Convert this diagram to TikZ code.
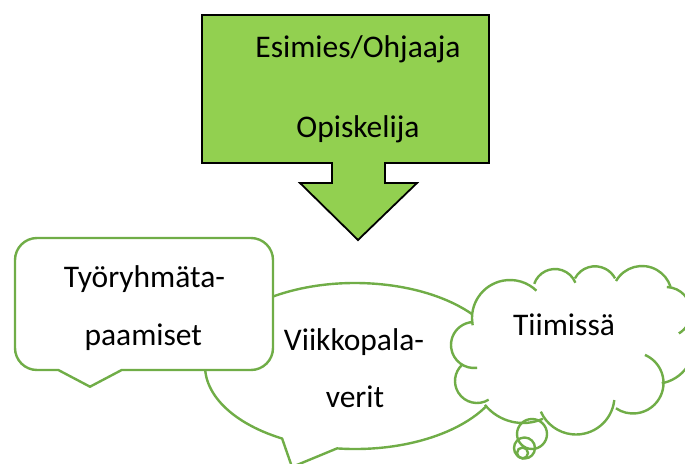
\documentclass[tikz,border=0pt]{standalone}
\usepackage{fontspec}
\setmainfont{Carlito}
\usetikzlibrary{calc}
\definecolor{arrowgreen}{HTML}{92D050}
\definecolor{calloutgreen}{HTML}{70AD47}
\begin{document}
\begin{tikzpicture}[x=1pt,y=-1pt,
  lbl/.style={anchor=base, font=\fontsize{31.5}{36}\selectfont, inner sep=0pt},
  callout/.style={draw=calloutgreen, line width=2.4pt, fill=white, line join=round},
  cloudline/.style={draw=calloutgreen, line width=2.4pt},
  bubble/.style={draw=calloutgreen, line width=2.4pt}]
\useasboundingbox (0,0) rectangle (685,463);
\clip (0,0) rectangle (685,463);

% green down-arrow callout
\draw[fill=arrowgreen, draw=black, line width=1.8pt, line join=miter]
  (202,15) -- (489,15) -- (489,163) -- (385,163) -- (385,183) -- (417,183)
  -- (358,240) -- (300,183) -- (332,183) -- (332,163) -- (202,163) -- cycle;

% ellipse speech callout
\draw[callout] (282.1,438.5) -- (292,467) -- (337,448.4)
  arc[start angle=96.9, end angle=-240.9, x radius=150, y radius=83] -- cycle;

% rounded rectangle speech callout
\draw[callout] (37,238) -- (251,238) arc[start angle=-90,end angle=0,radius=22]
  -- (273,348) arc[start angle=0,end angle=90,radius=22]
  -- (121.7,370) -- (90,386.7) -- (58.3,370)
  -- (37,370) arc[start angle=90,end angle=180,radius=22]
  -- (15,260) arc[start angle=180,end angle=270,radius=22] -- cycle;

% cloud callout: white fill
\fill[white]
  ($(474,345)+(82:23)$) arc[start angle=82,end angle=268,radius=23]
  -- ($(510,318)+(169:38)$) arc[start angle=169,end angle=314,radius=38]
  -- ($(555,291)+(199:22)$) arc[start angle=199,end angle=338,radius=22]
  -- ($(595,289)+(208:22.7)$) arc[start angle=208,end angle=332,radius=22.7]
  -- ($(642,296)+(210:30)$) arc[start angle=210,end angle=342,radius=30]
  -- ($(666,312)+(272:25)$) arc[start angle=272,end angle=419,radius=25]
  -- ($(655,345)+(-25:38.8)$) arc[start angle=-25,end angle=80,radius=38.8]
  -- ($(633,383)+(0:30.5)$) arc[start angle=0,end angle=124,radius=30.5]
  -- ($(576,396)+(6:38.5)$) arc[start angle=6,end angle=156,radius=38.5]
  -- ($(523,374)+(66:49)$) arc[start angle=66,end angle=141,radius=49]
  -- ($(477,381)+(58:22)$) arc[start angle=58,end angle=227,radius=22]
  -- cycle;

% cloud callout: outline arcs
\foreach \cx/\cy/\sa/\ea/\r in {
  474/345/82/268/23, 510/318/169/314/38, 555/291/199/338/22,
  595/289/208/332/22.7, 642/296/210/342/30, 666/312/272/419/25,
  655/345/-25/80/38.8, 633/383/-67/124/30.5, 576/396/6/156/38.5,
  523/374/66/141/49, 477/381/58/227/22}
  \draw[cloudline] ($(\cx,\cy)+(\sa:\r)$) arc[start angle=\sa,end angle=\ea,radius=\r];

% thought bubbles
\draw[bubble] (532,434) circle[radius=15];
\draw[bubble] (524.5,448) circle[radius=10.5];
\draw[bubble] (522.5,453) circle[radius=5.5];

% texts
\node[lbl] (esim) at (358,57) {Esimies/Ohjaaja};
\node[lbl] (opis) at (358,137) {Opiskelija};
\node[lbl] (tyo) at (144.5,287) {Työryhmäta-};
\node[lbl] (paa) at (143.3,345) {paamiset};
\node[lbl] (viik) at (354,350) {Viikkopala-};
\node[lbl] (verit) at (355,407) {verit};
\node[lbl] (tiim) at (564,335) {Tiimissä};
\end{tikzpicture}
\end{document}
